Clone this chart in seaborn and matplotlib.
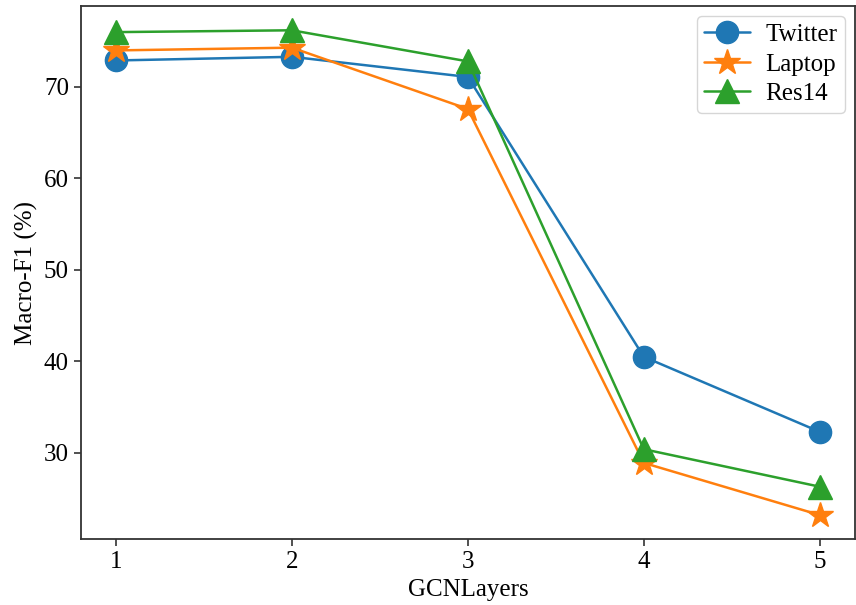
import matplotlib
matplotlib.use("Agg")
import matplotlib.pyplot as plt
import seaborn as sns
import pandas as pd

# GCN layer count vs Macro-F1 (%) on each dataset
layers = [1, 2, 3, 4, 5]
twitter = [72.9, 73.3, 71.1, 40.5, 32.3]
laptop = [74.0, 74.3, 67.6, 28.9, 23.2]
res14 = [76.0, 76.2, 72.8, 30.4, 26.3]

series = [
    ("Twitter", twitter, "o", "#1f77b4", 16),
    ("Laptop", laptop, "*", "#ff7f0e", 19),
    ("Res14", res14, "^", "#2ca02c", 17),
]

sns.set_theme(style="ticks")
plt.rcParams["font.family"] = ["Liberation Serif", "DejaVu Serif"]
plt.rcParams["text.color"] = "black"
plt.rcParams["axes.labelcolor"] = "black"
plt.rcParams["xtick.labelcolor"] = "black"
plt.rcParams["ytick.labelcolor"] = "black"

fig = plt.figure(figsize=(8.56, 6.05), dpi=100)
ax = fig.add_axes([0.0943, 0.1086, 0.9045, 0.8814])

for name, vals, mk, col, ms in series:
    df = pd.DataFrame({"GCNLayers": layers, "Macro-F1": vals})
    sns.lineplot(data=df, x="GCNLayers", y="Macro-F1", ax=ax, label=name,
                 color=col, marker=mk, markersize=ms, linewidth=1.8,
                 markeredgecolor=col, markeredgewidth=1)

ax.set_xticks(layers)
ax.set_yticks([30, 40, 50, 60, 70])
ax.set_xlabel("GCNLayers", fontsize=18)
ax.set_ylabel("Macro-F1 (%)", fontsize=18)
ax.tick_params(labelsize=18, length=5, width=1.2, color="#333333")
for sp in ax.spines.values():
    sp.set_visible(True)
    sp.set_color("#333333")
    sp.set_linewidth(1.3)

ax.legend(loc="upper right", fontsize=18, frameon=True, framealpha=0.8,
          edgecolor="#cccccc", handlelength=1.85, handletextpad=0.6,
          borderpad=0.3, labelspacing=0.28, borderaxespad=0.4)

fig.savefig("out.png", dpi=100)
